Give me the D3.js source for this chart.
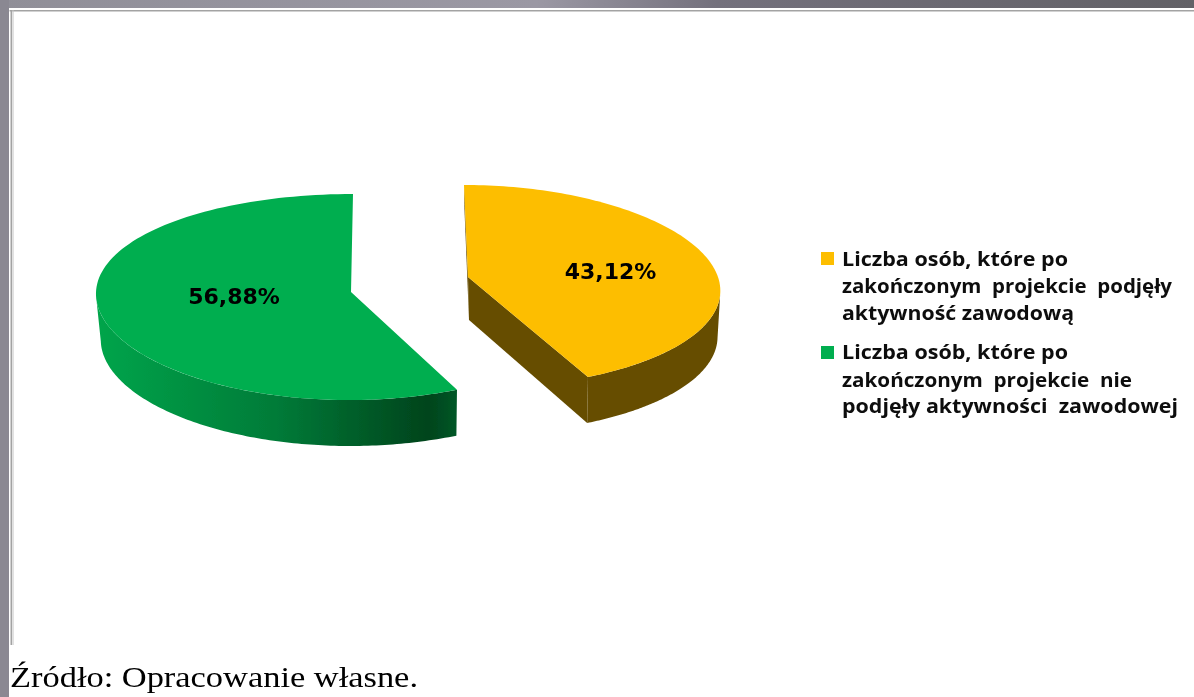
<!DOCTYPE html>
<html>
<head>
<meta charset="utf-8">
<script src="https://cdn.jsdelivr.net/npm/d3@7"></script>
<style>
html, body {margin: 0; padding: 0; background: #fff; overflow: hidden;}
svg {display: block;}
</style>
</head>
<body>
<svg id="chart" width="1194" height="697"></svg>
<script>
const categories = ["podjęły aktywność", "nie podjęły aktywności"];
const shares = [43.12, 56.88];
const shareLabels = ["43,12%", "56,88%"];
const colors = ["#FDBE00", "#00AE50"];
const legendLines = [
    ["Liczba osób, które po", "zakończonym  projekcie  podjęły", "aktywność zawodową"],
    ["Liczba osób, które po", "zakończonym  projekcie  nie", "podjęły aktywności  zawodowej"]
];
const sourceText = "Źródło: Opracowanie własne.";

// slice geometry, the pie is tilted so each slice has its own small corrections
const sliceShape = [
    {cx: 468, cy: 277, rx: 250, ry: 101.5, q: 9.5, k: 0.122, shear: 4, apexDepth: 43, wallEnd: 1.72, label: [610.5, 279]},
    {cx: 351, cy: 292, rx: 255, ry: 103, q: 5, k: 0.01, shear: -2, apexDepth: 44, wallEnd: 4.68, label: [234, 304]}
];
const rimDepth = 46;

const svg = d3.select("#chart");
const defs = svg.append("defs");

const blur = defs.append("filter").attr("id", "soft");
blur.append("feGaussianBlur").attr("stdDeviation", 0.55);

const topBand = defs.append("linearGradient").attr("id", "topBand");
[[0, "#908f98"], [0.45, "#9b98a4"], [0.6, "#74717d"], [1, "#626166"]].forEach(s => {
    topBand.append("stop").attr("offset", s[0]).attr("stop-color", s[1]);
});

const sideGreen = defs.append("linearGradient")
    .attr("id", "sideGreen")
    .attr("gradientUnits", "userSpaceOnUse")
    .attr("x1", 96).attr("x2", 457).attr("y1", 0).attr("y2", 0);
[[0, "#00A54B"], [0.5, "#007B38"], [0.92, "#00441C"], [1, "#005727"]].forEach(s => {
    sideGreen.append("stop").attr("offset", s[0]).attr("stop-color", s[1]);
});

// page background and frame
svg.append("rect").attr("width", 1194).attr("height", 697).attr("fill", "#fff");
svg.append("rect").attr("width", 1194).attr("height", 8).attr("fill", "url(#topBand)");
svg.append("rect").attr("width", 9).attr("height", 697).attr("fill", "#8a8892");
svg.append("rect").attr("x", 9.5).attr("y", 10).attr("width", 1185).attr("height", 1.5).attr("fill", "#a3a3a3");
svg.append("rect").attr("x", 10.5).attr("y", 10).attr("width", 1.5).attr("height", 635).attr("fill", "#a3a3a3");
svg.append("rect").attr("x", 12.5).attr("y", 10).attr("width", 1).attr("height", 635).attr("fill", "#c4c4c4");

const pie = d3.pie().sort(null).value(d => d);
const arcs = pie(shares);
const line = d3.line().x(d => d[0]).y(d => d[1]);

// a point on the rim of the tilted slice, t is the pie angle
function rimTop(s, t) {
    const u = Math.sin(t);
    const v = -Math.cos(t);
    return [s.cx + s.rx * u * (1 + s.k * v) + s.shear * v, s.cy + s.ry * v + s.q * v * v];
}

function rimBottom(s, t) {
    const p = rimTop(s, t);
    return [s.cx + 1 + (p[0] - s.cx) * 0.985, p[1] + rimDepth];
}

function sweep(a, b, f, s) {
    return d3.range(0, 121).map(i => f(s, a + (b - a) * i / 120));
}

const pieGroup = svg.append("g").attr("filter", "url(#soft)");

arcs.forEach((arc, i) => {
    const s = sliceShape[i];
    const apex = [s.cx, s.cy];
    const apexLow = [s.cx + 1, s.cy + s.apexDepth];
    const sideFill = i === 0 ? "#664D00" : "url(#sideGreen)";

    // cut faces of the yellow slice, the green ones are hidden
    if (i === 0) {
        const t0 = rimTop(s, arc.startAngle);
        pieGroup.append("path")
            .attr("d", line([t0, [t0[0], t0[1] + 13], apexLow, apex]) + "Z")
            .attr("fill", sideFill);
        pieGroup.append("path")
            .attr("d", line([apex, apexLow, rimBottom(s, arc.endAngle), rimTop(s, arc.endAngle)]) + "Z")
            .attr("fill", sideFill);
    }

    // outer wall
    const wallFrom = i === 0 ? s.wallEnd : arc.startAngle;
    const wallTo = i === 0 ? arc.endAngle : s.wallEnd;
    const wall = sweep(wallFrom, wallTo, rimTop, s).concat(sweep(wallFrom, wallTo, rimBottom, s).reverse());
    pieGroup.append("path")
        .attr("d", line(wall) + "Z")
        .attr("fill", sideFill);

    // top surface
    const surface = [apex].concat(sweep(arc.startAngle, arc.endAngle, rimTop, s));
    pieGroup.append("path")
        .attr("d", line(surface) + "Z")
        .attr("fill", colors[i]);
});

const textGroup = svg.append("g").attr("filter", "url(#soft)");

textGroup.selectAll("text.share")
    .data(shareLabels)
    .join("text")
    .attr("class", "share")
    .attr("x", (d, i) => sliceShape[i].label[0])
    .attr("y", (d, i) => sliceShape[i].label[1])
    .attr("text-anchor", "middle")
    .attr("font-family", "'DejaVu Sans', sans-serif")
    .attr("font-weight", "bold")
    .attr("font-size", 22)
    .attr("fill", "#000")
    .text(d => d);

// legend
const swatchY = [252, 346];
const lineY = [[266, 293, 320], [359, 387, 413]];
const lineWidth = [[226, 330, 232], [226, 290, 336]];

categories.forEach((c, i) => {
    textGroup.append("rect")
        .attr("x", 821).attr("y", swatchY[i])
        .attr("width", 13).attr("height", 13)
        .attr("fill", colors[i]);

    legendLines[i].forEach((text, j) => {
        textGroup.append("text")
            .attr("x", 842)
            .attr("y", lineY[i][j])
            .attr("font-family", "'Open Sans', sans-serif")
            .attr("font-weight", 700)
            .attr("font-size", 19)
            .attr("textLength", lineWidth[i][j])
            .attr("lengthAdjust", "spacingAndGlyphs")
            .style("white-space", "pre")
            .attr("fill", "#111")
            .text(text);
    });
});

textGroup.append("text")
    .attr("x", 10)
    .attr("y", 687)
    .attr("font-family", "'Liberation Serif', serif")
    .attr("font-size", 30)
    .attr("textLength", 408)
    .attr("lengthAdjust", "spacingAndGlyphs")
    .attr("fill", "#000")
    .text(sourceText);
</script>
</body>
</html>
